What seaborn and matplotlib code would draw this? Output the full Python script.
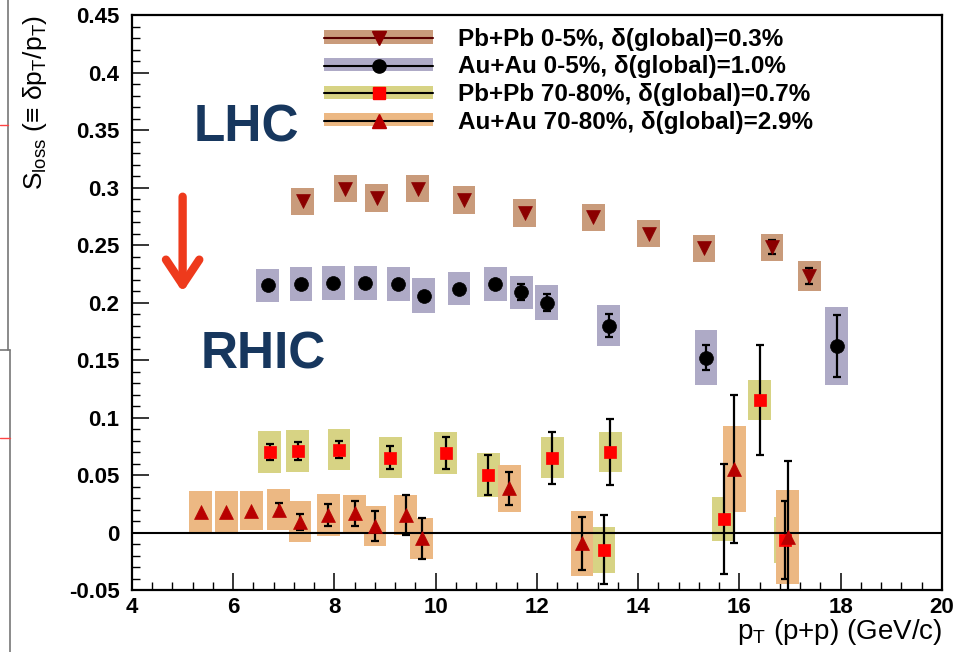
import numpy as np
import pandas as pd
import matplotlib
matplotlib.use("Agg")
import matplotlib.pyplot as plt
import seaborn as sns
from matplotlib.patches import Patch
from matplotlib.lines import Line2D
from matplotlib.legend_handler import HandlerTuple
from matplotlib.ticker import MultipleLocator, FuncFormatter

# ---------------- data ----------------
pbpb_c_x = [7.37, 8.21, 8.83, 9.64, 10.56, 11.76, 13.11, 14.21, 15.30, 16.64, 17.38]
pbpb_c_y = [0.288, 0.299, 0.291, 0.299, 0.289, 0.278, 0.274, 0.260, 0.247, 0.248, 0.223]
pbpb_c_stat = [0, 0, 0, 0, 0, 0, 0, 0, 0, 0.006, 0.007]
pbpb_c_syst = [0.012, 0.012, 0.012, 0.012, 0.012, 0.012, 0.012, 0.012, 0.012, 0.012, 0.013]

auau_c_x = [6.68, 7.34, 7.98, 8.61, 9.26, 9.76, 10.46, 11.18, 11.69, 12.19, 13.42, 15.34, 17.92]
auau_c_y = [0.215, 0.216, 0.217, 0.217, 0.216, 0.206, 0.212, 0.216, 0.209, 0.200, 0.180, 0.152, 0.162]
auau_c_stat = [0, 0, 0, 0, 0, 0, 0, 0, 0.007, 0.007, 0.010, 0.011, 0.027]
auau_c_syst = [0.0145, 0.0145, 0.015, 0.0145, 0.0145, 0.015, 0.0145, 0.0145, 0.0143, 0.015, 0.0178, 0.024, 0.034]

pbpb_p_x = [6.72, 7.27, 8.09, 9.10, 10.20, 11.04, 12.30, 13.32, 13.45, 15.69, 16.40, 16.90]
pbpb_p_y = [0.070, 0.071, 0.072, 0.065, 0.069, 0.050, 0.065, -0.015, 0.070, 0.012, 0.115, -0.0065]
pbpb_p_stat = [0.007, 0.008, 0.0075, 0.010, 0.014, 0.017, 0.0225, 0.030, 0.029, 0.048, 0.048, 0.034]
pbpb_p_syst = [0.018, 0.018, 0.018, 0.018, 0.018, 0.0187, 0.018, 0.020, 0.0177, 0.019, 0.0174, 0.020]

auau_p_x = [5.36, 5.86, 6.36, 6.90, 7.32, 7.88, 8.40, 8.80, 9.41, 9.72, 11.45, 12.89, 15.90, 16.95]
auau_p_y = [0.018, 0.018, 0.019, 0.020, 0.0094, 0.0152, 0.0167, 0.0057, 0.0152, -0.005, 0.0384, -0.0094, 0.0552, -0.0037]
auau_p_stat = [0, 0, 0, 0.006, 0.0068, 0.0094, 0.011, 0.0128, 0.017, 0.018, 0.0142, 0.0229, 0.064, 0.066]
auau_p_syst = [0.0177, 0.0177, 0.017, 0.018, 0.018, 0.018, 0.016, 0.0174, 0.0172, 0.018, 0.0206, 0.028, 0.037, 0.041]

labels = ["Pb+Pb 0-5%, δ(global)=0.3%",
          "Au+Au 0-5%, δ(global)=1.0%",
          "Pb+Pb 70-80%, δ(global)=0.7%",
          "Au+Au 70-80%, δ(global)=2.9%"]
x_ticks = [4, 6, 8, 10, 12, 14, 16, 18, 20]
y_ticks = [-0.05, 0, 0.05, 0.1, 0.15, 0.2, 0.25, 0.3, 0.35, 0.4, 0.45]

# ---------------- style ----------------
sns.set_theme(style="white")
plt.rcParams['font.family'] = ['Liberation Sans', 'DejaVu Sans']
plt.rcParams['mathtext.fontset'] = 'custom'
plt.rcParams['mathtext.rm'] = 'Liberation Sans'
plt.rcParams['mathtext.it'] = 'Liberation Sans'
plt.rcParams['mathtext.default'] = 'regular'
plt.rcParams['axes.unicode_minus'] = False

series = [
    dict(x=pbpb_c_x, y=pbpb_c_y, stat=pbpb_c_stat, syst=pbpb_c_syst,
         box="#c99b7b", marker="v", mfc="#8b0000", mec="#8b0000", ms=10, line="#5a0000"),
    dict(x=auau_c_x, y=auau_c_y, stat=auau_c_stat, syst=auau_c_syst,
         box="#aeaac6", marker="o", mfc="black", mec="black", ms=10, line="black"),
    dict(x=pbpb_p_x, y=pbpb_p_y, stat=pbpb_p_stat, syst=pbpb_p_syst,
         box="#d7d384", marker="s", mfc="#ff0000", mec="#ff0000", ms=9, line="black"),
    dict(x=auau_p_x, y=auau_p_y, stat=auau_p_stat, syst=auau_p_syst,
         box="#ecb883", marker="^", mfc="#b80000", mec="#b80000", ms=10, line="black"),
]

fig = plt.figure(figsize=(9.59, 6.52), dpi=100)
ax = fig.add_axes([0.13764, 0.09509, 0.84463, 0.88190])

# systematic boxes
for s in series:
    y = np.array(s["y"]); sy = np.array(s["syst"])
    ax.bar(s["x"], 2 * sy, bottom=y - sy, width=0.45, color=s["box"],
           linewidth=0, zorder=1)

ax.axhline(0, color="black", lw=1.5, zorder=2)

# statistical error bars (only where visible)
for s in series:
    x = np.array(s["x"]); y = np.array(s["y"]); st = np.array(s["stat"])
    m = st > 0
    ax.errorbar(x[m], y[m], yerr=st[m], fmt="none", ecolor="black",
                elinewidth=1.6, capsize=3.2, capthick=1.6, zorder=3)

# markers via seaborn
for s in series:
    df = pd.DataFrame({"x": s["x"], "y": s["y"]})
    sns.scatterplot(data=df, x="x", y="y", marker=s["marker"], s=s["ms"] ** 2,
                    color=s["mfc"], edgecolor=s["mec"], linewidth=0.5, ax=ax,
                    zorder=4, legend=False)

# axes
ax.set_xlim(4, 20)
ax.set_ylim(-0.05, 0.45)
ax.set_xticks(x_ticks)
ax.set_yticks(y_ticks)
ax.xaxis.set_minor_locator(MultipleLocator(0.4))
ax.yaxis.set_minor_locator(MultipleLocator(0.01))
ax.yaxis.set_major_formatter(FuncFormatter(lambda v, p: "%g" % round(v, 3)))
ax.xaxis.set_major_formatter(FuncFormatter(lambda v, p: "%d" % round(v)))
ax.tick_params(which="both", direction="in", top=False, right=False,
               left=True, bottom=True, color="black")
ax.tick_params(which="major", length=12, width=1.1)
ax.tick_params(which="minor", length=6, width=1.0)
ax.tick_params(axis="y", which="major", pad=9)
ax.tick_params(axis="x", which="major", pad=5)
for lab in ax.get_xticklabels() + ax.get_yticklabels():
    lab.set_fontweight("bold")
    lab.set_fontsize(16)
    lab.set_color("black")
for sp in ax.spines.values():
    sp.set_color("black")
    sp.set_linewidth(1.6)

ax.set_xlabel("p$_{T}$ (p+p) (GeV/c)", fontsize=20, loc="right", color="black")
ax.xaxis.set_label_coords(1.0, -0.073)
ax.xaxis.label.set_verticalalignment("center")
ax.set_ylabel("S$_{loss}$ (≡ δp$_{T}$/p$_{T}$)", fontsize=19, loc="top", color="black")
ax.yaxis.set_label_coords(-0.12, 1.0)
ax.yaxis.label.set_verticalalignment("center")

# annotations
ax.text(6.25, 0.352, "LHC", fontsize=37, fontweight="bold", color="#17375E",
        ha="center", va="center")
ax.text(6.59, 0.154, "RHIC", fontsize=37, fontweight="bold", color="#17375E",
        ha="center", va="center")
ax.annotate("", xy=(5.0, 0.209), xytext=(5.0, 0.292),
            arrowprops=dict(arrowstyle="->,head_length=1.5,head_width=1.0",
                            color="#ee3a1c", lw=6, shrinkA=0, shrinkB=0))

# legend
handles = []
for s in series:
    handles.append((Patch(facecolor=s["box"], edgecolor="none"),
                    Line2D([0], [0], color=s["line"], lw=1.5, marker=s["marker"],
                           markerfacecolor=s["mfc"], markeredgecolor=s["mec"],
                           markersize=s["ms"] * 0.95)))
leg = ax.legend(handles, labels, handler_map={tuple: HandlerTuple(ndivide=1, pad=0)},
                loc="upper left", bbox_to_anchor=(0.237, 0.978), frameon=False,
                fontsize=17.5, handlelength=4.5, handleheight=0.45,
                handletextpad=1.0, labelspacing=0.19, borderpad=0, borderaxespad=0)
for t in leg.get_texts():
    t.set_fontweight("bold")
    t.set_color("black")

# slide-edge remnants at the far left
fig.add_artist(Line2D([8 / 959, 8 / 959], [1.0, 1 - 350 / 652], color="#777777", lw=1.2))
fig.add_artist(Line2D([10 / 959, 10 / 959], [1 - 350 / 652, 0.0], color="#777777", lw=1.2))
fig.add_artist(Line2D([0, 10 / 959], [1 - 350 / 652, 1 - 350 / 652], color="#777777", lw=1.2))
fig.add_artist(Line2D([0, 8 / 959], [1 - 125 / 652, 1 - 125 / 652], color="#ff4444", lw=1.0))
fig.add_artist(Line2D([0, 10 / 959], [1 - 438 / 652, 1 - 438 / 652], color="#ff4444", lw=1.0))

fig.savefig("out.png", dpi=100)
